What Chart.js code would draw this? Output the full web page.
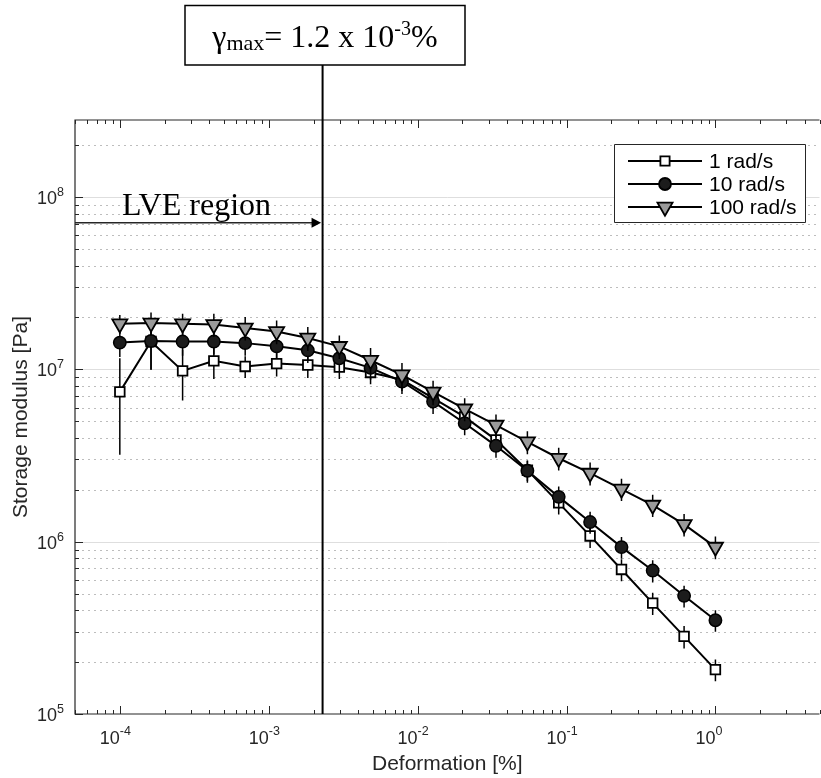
<!DOCTYPE html>
<html><head><meta charset="utf-8">
<script src="https://cdn.jsdelivr.net/npm/chart.js@4.4.1/dist/chart.umd.min.js"></script>
<style>
html,body{margin:0;padding:0;background:#fff;overflow:hidden;width:821px;height:778px}
#c{display:block}
</style></head>
<body><canvas id="c" width="830" height="778"></canvas>
<script>
// ---- data ----
const deformation = [1.00e-4, 1.62e-4, 2.64e-4, 4.28e-4, 6.95e-4, 1.13e-3, 1.83e-3, 2.98e-3, 4.83e-3, 7.85e-3,
                     1.27e-2, 2.07e-2, 3.36e-2, 5.46e-2, 8.86e-2, 1.44e-1, 2.34e-1, 3.79e-1, 6.16e-1, 1.00];
const modulus1 = [7.4e6, 1.45e7, 9.8e6, 1.12e7, 1.04e7, 1.08e7, 1.06e7, 1.03e7, 9.6e6, 8.7e6,
                  6.8e6, 5.3e6, 3.9e6, 2.6e6, 1.68e6, 1.08e6, 6.9e5, 4.4e5, 2.82e5, 1.81e5];
const error1   = [4.2e6, 4.5e6, 3.2e6, 2.4e6, 1.5e6, 1.7e6, 1.7e6, 1.5e6, 1.4e6, 1.2e6,
                  0.9e6, 0.7e6, 0.5e6, 0.35e6, 0.24e6, 0.16e6, 0.1e6, 0.065e6, 0.042e6, 0.026e6];
const modulus10 = [1.43e7, 1.46e7, 1.45e7, 1.45e7, 1.42e7, 1.36e7, 1.29e7, 1.16e7, 1.02e7, 8.5e6,
                   6.5e6, 4.87e6, 3.6e6, 2.58e6, 1.82e6, 1.30e6, 9.3e5, 6.8e5, 4.85e5, 3.5e5];
const error10   = [2.5e6, 4.7e6, 2.5e6, 2.3e6, 2.2e6, 2.1e6, 2.0e6, 1.8e6, 1.5e6, 1.3e6,
                   1.0e6, 0.72e6, 0.53e6, 0.38e6, 0.27e6, 0.19e6, 0.135e6, 0.1e6, 0.07e6, 0.05e6];
const modulus100 = [1.84e7, 1.86e7, 1.84e7, 1.82e7, 1.74e7, 1.66e7, 1.52e7, 1.36e7, 1.13e7, 9.3e6,
                    7.4e6, 5.9e6, 4.75e6, 3.8e6, 3.05e6, 2.5e6, 2.02e6, 1.63e6, 1.26e6, 9.3e5];
const error100   = [2.3e6, 2.8e6, 2.6e6, 2.8e6, 2.7e6, 2.6e6, 2.4e6, 2.1e6, 2.0e6, 1.6e6,
                    1.2e6, 0.9e6, 0.72e6, 0.58e6, 0.46e6, 0.38e6, 0.3e6, 0.24e6, 0.19e6, 0.14e6];
const seriesNames = ['1 rad/s', '10 rad/s', '100 rad/s'];

const xMajorTicks = [1e-4, 1e-3, 1e-2, 1e-1, 1];
const xTickExponents = ['-4', '-3', '-2', '-1', '0'];
const yMajorTicks = [1e5, 1e6, 1e7, 1e8];
const yTickExponents = ['5', '6', '7', '8'];
const xLimits = [5e-5, 5];
const yLimits = [1e5, 2.8e8];
const lveLimit = 2.3e-3;
const lveArrowLevel = 7.1e7;
const xTitle = 'Deformation [%]';
const yTitle = 'Storage modulus [Pa]';

// ---- styles ----
const SANS = '"Liberation Sans", Arial, Helvetica, sans-serif';
const SERIF = '"Liberation Serif", "Times New Roman", serif';
const AX = '#262626';
const errors = [error1, error10, error100];
const values = [modulus1, modulus10, modulus100];

function minorValues(lo, hi) {
  const out = [];
  for (let e = Math.floor(Math.log10(lo)); e <= Math.ceil(Math.log10(hi)); e++) {
    for (let m = 1; m <= 9; m++) {
      const v = m * Math.pow(10, e);
      if (v >= lo * 0.9999 && v <= hi * 1.0001) out.push({v, major: m === 1});
    }
  }
  return out;
}

function drawMarker(ctx, style, x, y) {
  ctx.save();
  ctx.lineWidth = 1.8; ctx.strokeStyle = '#000';
  ctx.beginPath();
  if (style === 'rect') {
    ctx.fillStyle = '#fff'; ctx.rect(x - 4.6, y - 4.6, 9.2, 9.2);
  } else if (style === 'circle') {
    ctx.fillStyle = '#1c1c1c'; ctx.arc(x, y, 6, 0, Math.PI * 2);
  } else {
    const r = 8.7;
    ctx.fillStyle = '#9a9a9a';
    ctx.moveTo(x, y + r);
    ctx.lineTo(x - r * Math.sin(Math.PI / 3), y - r / 2);
    ctx.lineTo(x + r * Math.sin(Math.PI / 3), y - r / 2);
    ctx.closePath();
  }
  ctx.fill(); ctx.stroke();
  ctx.restore();
}

function richText(ctx, parts, x, y, align) {
  let total = 0;
  parts.forEach(p => { ctx.font = p.font; p.w = ctx.measureText(p.t).width; total += p.w; });
  let cx = align === 'center' ? x - total / 2 : (align === 'right' ? x - total : x);
  ctx.textAlign = 'left'; ctx.textBaseline = 'alphabetic';
  parts.forEach(p => { ctx.font = p.font; ctx.fillText(p.t, cx, y + (p.dy || 0)); cx += p.w; });
}

const decor = {
  id: 'decor',
  beforeDraw(chart) {
    const ctx = chart.ctx;
    ctx.save(); ctx.fillStyle = '#fff'; ctx.fillRect(0, 0, chart.width, chart.height); ctx.restore();
  },
  beforeDatasetsDraw(chart) {
    const {ctx, chartArea: a, scales: {y}} = chart;
    ctx.save();
    minorValues(yLimits[0], yLimits[1]).forEach(t => {
      const py = Math.round(y.getPixelForValue(t.v)) + 0.5;
      if (py > a.bottom - 1 || py < a.top + 1) return;
      ctx.beginPath();
      if (t.major) { ctx.setLineDash([]); ctx.strokeStyle = '#dedede'; ctx.lineWidth = 1; }
      else { ctx.setLineDash([2, 4]); ctx.strokeStyle = '#bdbdbd'; ctx.lineWidth = 1; }
      ctx.moveTo(a.left + 1, py); ctx.lineTo(a.right, py); ctx.stroke();
    });
    ctx.restore();
  },
  beforeDatasetDraw(chart, args) {
    const {ctx, chartArea: a, scales: {x, y}} = chart;
    const idx = args.index, vals = values[idx], errs = errors[idx];
    ctx.save();
    ctx.beginPath(); ctx.rect(a.left, a.top, a.right - a.left, a.bottom - a.top); ctx.clip();
    ctx.strokeStyle = '#000'; ctx.lineWidth = 1.5;
    deformation.forEach((d, i) => {
      const px = x.getPixelForValue(d);
      const lo = Math.max(vals[i] - errs[i], 1);
      ctx.beginPath();
      ctx.moveTo(px, y.getPixelForValue(vals[i] + errs[i]));
      ctx.lineTo(px, y.getPixelForValue(lo));
      ctx.stroke();
    });
    ctx.restore();
  },
  afterDatasetsDraw(chart) {
    const {ctx, chartArea: a, scales: {x, y}} = chart;
    ctx.save();
    // axes box (left, top, bottom)
    ctx.strokeStyle = AX; ctx.lineWidth = 1.2;
    ctx.beginPath();
    ctx.moveTo(a.right, a.top); ctx.lineTo(a.left, a.top); ctx.lineTo(a.left, a.bottom); ctx.lineTo(a.right, a.bottom);
    ctx.stroke();
    // x ticks (top & bottom, inward)
    ctx.lineWidth = 1;
    minorValues(xLimits[0], xLimits[1]).forEach(t => {
      const px = Math.round(x.getPixelForValue(t.v)) + 0.5;
      const L = t.major ? 8 : 4;
      ctx.beginPath();
      ctx.moveTo(px, a.bottom); ctx.lineTo(px, a.bottom - L);
      ctx.moveTo(px, a.top); ctx.lineTo(px, a.top + L);
      ctx.stroke();
    });
    minorValues(yLimits[0], yLimits[1]).forEach(t => {
      const py = Math.round(y.getPixelForValue(t.v)) + 0.5;
      const L = t.major ? 8 : 4;
      ctx.beginPath(); ctx.moveTo(a.left, py); ctx.lineTo(a.left + L, py); ctx.stroke();
    });
    // tick labels
    ctx.fillStyle = AX;
    xMajorTicks.forEach((v, i) => {
      const px = x.getPixelForValue(v);
      ctx.font = '18px ' + SANS; ctx.textAlign = 'right'; ctx.textBaseline = 'alphabetic';
      ctx.fillText('10', px, 744);
      ctx.font = '12.5px ' + SANS; ctx.textAlign = 'left';
      ctx.fillText(xTickExponents[i], px, 735);
    });
    yMajorTicks.forEach((v, i) => {
      const py = y.getPixelForValue(v);
      ctx.font = '12.5px ' + SANS; ctx.textAlign = 'right'; ctx.textBaseline = 'alphabetic';
      const we = ctx.measureText(yTickExponents[i]).width;
      ctx.fillText(yTickExponents[i], 64, py - 1);
      ctx.font = '18px ' + SANS;
      ctx.fillText('10', 64 - we, py + 7);
    });
    // axis titles
    ctx.font = '21px ' + SANS; ctx.textAlign = 'center'; ctx.textBaseline = 'alphabetic';
    ctx.fillText(xTitle, (a.left + a.right) / 2, 770);
    ctx.save();
    ctx.translate(21, (a.top + a.bottom) / 2); ctx.rotate(-Math.PI / 2);
    ctx.textBaseline = 'middle';
    ctx.fillText(yTitle, 0, 0);
    ctx.restore();

    // LVE limit line
    const lx = x.getPixelForValue(lveLimit);
    ctx.strokeStyle = '#000'; ctx.lineWidth = 2;
    ctx.beginPath(); ctx.moveTo(lx, 65); ctx.lineTo(lx, a.bottom); ctx.stroke();
    // arrow
    const ay = y.getPixelForValue(lveArrowLevel);
    ctx.strokeStyle = AX; ctx.lineWidth = 1.5;
    ctx.beginPath(); ctx.moveTo(a.left, ay); ctx.lineTo(lx - 8, ay); ctx.stroke();
    ctx.fillStyle = '#000';
    ctx.beginPath(); ctx.moveTo(lx - 1.5, ay); ctx.lineTo(lx - 11, ay - 5); ctx.lineTo(lx - 11, ay + 5); ctx.closePath(); ctx.fill();
    ctx.font = '32px ' + SERIF; ctx.textAlign = 'left'; ctx.textBaseline = 'alphabetic'; ctx.fillStyle = '#000';
    ctx.fillText('LVE region', 122, 215);

    // top box
    ctx.fillStyle = '#fff'; ctx.strokeStyle = '#000'; ctx.lineWidth = 1.5;
    ctx.beginPath(); ctx.rect(185, 5.5, 280, 59.5); ctx.fill(); ctx.stroke();
    ctx.fillStyle = '#000';
    richText(ctx, [
      {t: 'γ', font: '32px ' + SERIF},
      {t: 'max', font: '22px ' + SERIF, dy: 3},
      {t: '= 1.2 x 10', font: '32px ' + SERIF},
      {t: '-3', font: '20px ' + SERIF, dy: -12},
      {t: '%', font: '32px ' + SERIF}
    ], (185 + 465) / 2, 47, 'center');

    // legend
    ctx.fillStyle = '#fff'; ctx.strokeStyle = AX; ctx.lineWidth = 1;
    ctx.beginPath(); ctx.rect(614.5, 144.5, 191, 78); ctx.fill(); ctx.stroke();
    const rows = [161, 184, 207], styles = ['rect', 'circle', 'triangle'];
    rows.forEach((ry, i) => {
      ctx.strokeStyle = '#000'; ctx.lineWidth = 2;
      ctx.beginPath(); ctx.moveTo(628, ry); ctx.lineTo(702, ry); ctx.stroke();
      drawMarker(ctx, styles[i], 665, ry);
      ctx.fillStyle = '#000'; ctx.font = '21px ' + SANS; ctx.textAlign = 'left'; ctx.textBaseline = 'middle';
      ctx.fillText(seriesNames[i], 709, ry + 1);
    });
    ctx.restore();
  }
};

const mk = (vals) => deformation.map((d, i) => ({x: d, y: vals[i]}));

new Chart(document.getElementById('c'), {
  type: 'line',
  data: {
    datasets: [
      {label: seriesNames[0], data: mk(modulus1), borderColor: '#000', borderWidth: 2,
       pointStyle: 'rect', pointRadius: 6.8, pointBackgroundColor: '#fff', pointBorderColor: '#000', pointBorderWidth: 1.8, order: 3},
      {label: seriesNames[1], data: mk(modulus10), borderColor: '#000', borderWidth: 2,
       pointStyle: 'circle', pointRadius: 6.2, pointBackgroundColor: '#1c1c1c', pointBorderColor: '#000', pointBorderWidth: 1.5, order: 2},
      {label: seriesNames[2], data: mk(modulus100), borderColor: '#000', borderWidth: 2,
       pointStyle: 'triangle', rotation: 180, pointRadius: 8.7, pointBackgroundColor: '#9a9a9a', pointBorderColor: '#000', pointBorderWidth: 1.8, order: 1}
    ]
  },
  options: {
    responsive: false, animation: false, devicePixelRatio: 1,
    layout: {padding: {top: 120, right: 1, left: 0, bottom: 0}},
    plugins: {legend: {display: false}, tooltip: {enabled: false}},
    elements: {line: {tension: 0}},
    scales: {
      x: {type: 'logarithmic', min: xLimits[0], max: xLimits[1],
          grid: {display: false}, border: {display: false}, ticks: {display: false},
          afterFit: s => { s.height = 64; }},
      y: {type: 'logarithmic', min: yLimits[0], max: yLimits[1],
          grid: {display: false}, border: {display: false}, ticks: {display: false},
          afterFit: s => { s.width = 75; }}
    }
  },
  plugins: [decor]
});
</script>
</body></html>
